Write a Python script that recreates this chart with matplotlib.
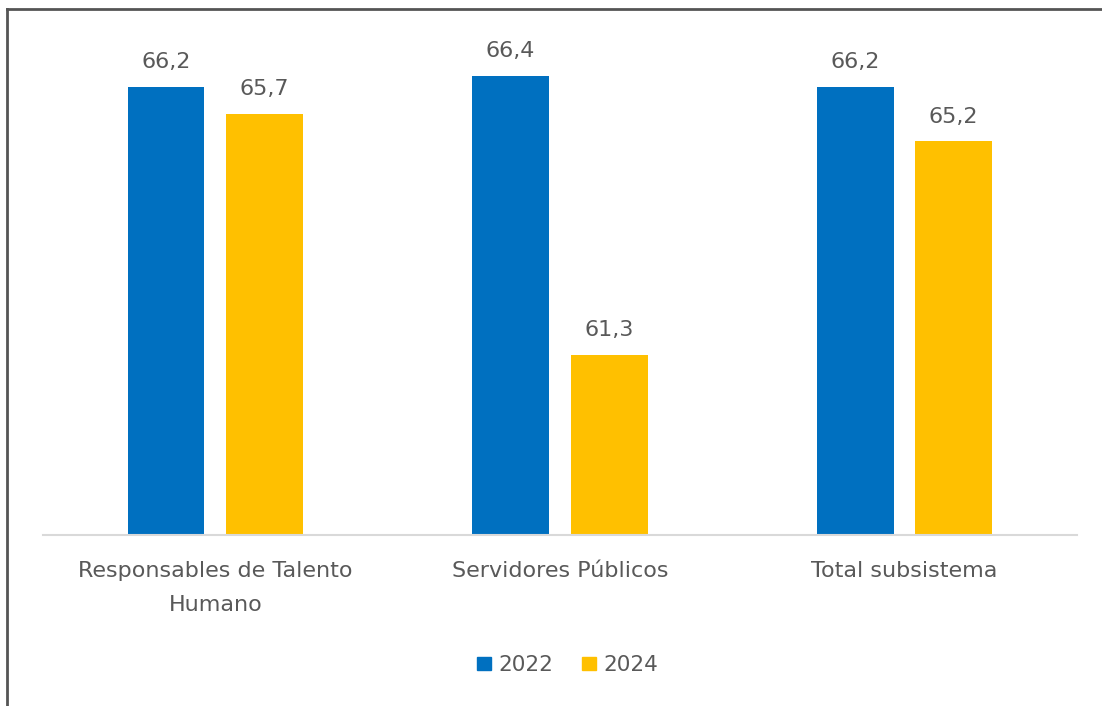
import matplotlib.pyplot as plt
import numpy as np
from matplotlib.lines import Line2D

plt.rcParams['font.family'] = ['DejaVu Sans']

# --- DATOS ---
categorias = ["Responsables de Talento\nHumano", "Servidores Públicos", "Total subsistema"]
anios = ["2022", "2024"]
valores_2022 = [66.2, 66.4, 66.2]
valores_2024 = [65.7, 61.3, 65.2]

AZUL = "#0070C0"
AMARILLO = "#FFC000"
GRIS_TXT = "#595959"

fig = plt.figure(figsize=(11.02, 7.06), dpi=100)
ax = fig.add_axes([0.039, 0.2422, 0.938, 0.697])

x = np.arange(len(categorias))
ancho = 0.223
sep = 0.143

b1 = ax.bar(x - sep, valores_2022, ancho, color=AZUL, label=anios[0])
b2 = ax.bar(x + sep, valores_2024, ancho, color=AMARILLO, label=anios[1])

# etiquetas de valor con coma decimal
for barras, vals in ((b1, valores_2022), (b2, valores_2024)):
    for rect, v in zip(barras, vals):
        ax.annotate(f"{v:.1f}".replace(".", ","),
                    (rect.get_x() + rect.get_width() / 2, v),
                    xytext=(0, 10.5), textcoords="offset points",
                    ha="center", va="bottom", fontsize=16, color=GRIS_TXT)

ax.set_ylim(58, 67)
ax.set_xlim(-0.5, 2.5)
ax.set_yticks([])
ax.set_xticks(x)
ax.set_xticklabels(categorias, fontsize=16, color=GRIS_TXT, linespacing=1.85)
ax.tick_params(axis="x", length=0, pad=19)
for s in ("top", "right", "left"):
    ax.spines[s].set_visible(False)
ax.spines["bottom"].set_color("#D9D9D9")
ax.spines["bottom"].set_linewidth(1.5)

handles = [plt.Rectangle((0, 0), 1, 1, color=AZUL), plt.Rectangle((0, 0), 1, 1, color=AMARILLO)]
fig.legend(handles, anios, loc="center", bbox_to_anchor=(0.515, 0.058), ncol=2,
           frameon=False, fontsize=15.5, labelcolor=GRIS_TXT,
           handlelength=0.65, handleheight=0.6, handletextpad=0.35, columnspacing=1.3)

# marco exterior (solo arriba e izquierda)
fig.add_artist(Line2D([0.0065, 1.0], [1 - 9 / 706, 1 - 9 / 706], color="#555555", lw=2))
fig.add_artist(Line2D([0.0065, 0.0065], [0.0, 1 - 9 / 706], color="#555555", lw=2))

fig.savefig("out.png", dpi=100)
